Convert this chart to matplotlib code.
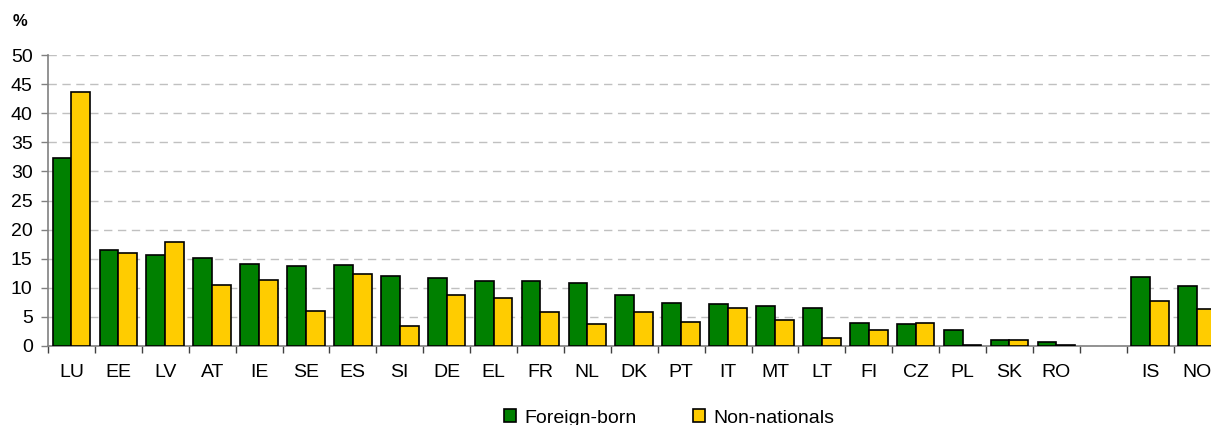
import matplotlib
matplotlib.use("Agg")
import matplotlib.pyplot as plt
import numpy as np
from matplotlib.patches import Patch

categories = ["LU", "EE", "LV", "AT", "IE", "SE", "ES", "SI", "DE", "EL", "FR", "NL",
              "DK", "PT", "IT", "MT", "LT", "FI", "CZ", "PL", "SK", "RO", "", "IS", "NO"]
foreign_born = [32.3, 16.5, 15.6, 15.2, 14.1, 13.8, 13.9, 12.0, 11.7, 11.2, 11.1, 10.9,
                8.8, 7.4, 7.3, 6.8, 6.6, 4.0, 3.7, 2.7, 1.0, 0.7, np.nan, 11.9, 10.3]
non_nationals = [43.6, 16.0, 17.9, 10.4, 11.3, 6.0, 12.4, 3.5, 8.8, 8.2, 5.8, 3.8,
                 5.8, 4.1, 6.6, 4.5, 1.3, 2.7, 4.0, 0.1, 1.0, 0.2, np.nan, 7.7, 6.4]
yticks = list(range(0, 55, 5))

plt.rcParams['font.family'] = ['Liberation Sans', 'DejaVu Sans']

W, H = 1211, 425
fig = plt.figure(figsize=(W / 100, H / 100), dpi=100)
left_px, right_px, top_px, bot_px = 48, 48 + 25 * 46.9, 55, 346
ax = fig.add_axes([left_px / W, (H - bot_px) / H, (right_px - left_px) / W, (bot_px - top_px) / H])

green = "#008000"
yellow = "#FFCC00"
x = np.arange(len(categories))
bw = 0.4
ax.bar(x - bw / 2, foreign_born, width=bw, color=green, edgecolor="black", linewidth=1.2, zorder=3)
ax.bar(x + bw / 2, non_nationals, width=bw, color=yellow, edgecolor="black", linewidth=1.2, zorder=3)

ax.set_xlim(-0.5, len(categories) - 0.5)
ax.set_ylim(0, 50)
ax.set_yticks(yticks)
ax.set_yticklabels([str(v) for v in yticks], fontsize=14)
ax.yaxis.grid(True, linestyle=(0, (6, 4)), color="#c0c0c0", linewidth=1.0, zorder=0)

ax.set_xticks(np.arange(len(categories) + 1) - 0.5)
ax.set_xticklabels([])
ax.set_xticks(x, minor=True)
ax.set_xticklabels(categories, minor=True, fontsize=14)
ax.tick_params(axis="x", which="major", length=5, width=1, color="#404040", direction="out")
ax.tick_params(axis="x", which="minor", length=0, pad=13)
ax.tick_params(axis="y", length=5, width=1, color="#808080", pad=6)

for s in ["top", "right"]:
    ax.spines[s].set_visible(False)
ax.spines["left"].set_color("#808080")
ax.spines["bottom"].set_color("#808080")
ax.spines["left"].set_linewidth(1.2)
ax.spines["bottom"].set_linewidth(1.2)

fig.text(13 / W, 1 - 21 / H, "%", fontsize=12, fontweight="bold", va="center", ha="left")

handles = [Patch(facecolor=green, edgecolor="black", linewidth=1.2, label="Foreign-born"),
           Patch(facecolor=yellow, edgecolor="black", linewidth=1.2, label="Non-nationals")]
fig.legend(handles=handles, loc="center", bbox_to_anchor=(669 / W, 7 / H), ncol=2, frameon=False,
           fontsize=14, handlelength=0.65, handleheight=0.65, handletextpad=0.4, columnspacing=2.9,
           borderpad=0)

fig.savefig("out.png", dpi=100)
